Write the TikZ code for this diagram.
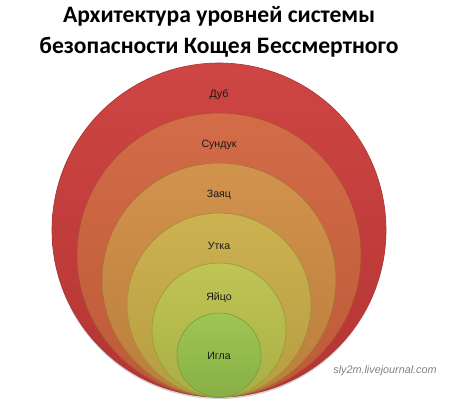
\documentclass[tikz,border=0pt]{standalone}
\usepackage{fontspec}
\setmainfont{Liberation Sans}
\newfontfamily\titlefont{Carlito}
\usepackage{xcolor}
\usetikzlibrary{shadows}

\definecolor{DubRed}{HTML}{CC3C3A}
\definecolor{SundukOrange}{HTML}{D1643E}
\definecolor{ZayatsOchre}{HTML}{CF8D43}
\definecolor{UtkaMustard}{HTML}{CAAE48}
\definecolor{YaitsoLime}{HTML}{BCC24B}
\definecolor{IglaGreen}{HTML}{97C34C}

\tikzset{
    ring/.style={circle, inner sep=0pt, minimum size=#1, line width=0.6pt},
    layer/.style={font=\fontsize{10.6}{12}\selectfont, text=black!90}
}

\begin{document}
\begin{tikzpicture}[x=1pt, y=-1pt]
        \useasboundingbox (0, 0) rectangle (449, 407);

        \node (title) at (219, 32)[align=center, font=\titlefont\bfseries\fontsize{23.6}{30.5}\selectfont] {Архитектура уровней системы \\ безопасности Кощея Бессмертного};

        % nested layers, all touching at the bottom
        \node (dub) at (219, 230)[ring=334pt, draw=DubRed!85!black, top color=DubRed!95!white, bottom color=DubRed!88!black, drop shadow={shadow xshift=0pt, shadow yshift=-2pt, opacity=0.35}] {};
        \node (sunduk) at (219, 255)[ring=284pt, draw=SundukOrange!80!black, top color=SundukOrange!95!white, bottom color=SundukOrange!90!black] {};
        \node (zayats) at (219, 280)[ring=234pt, draw=ZayatsOchre!80!black, top color=ZayatsOchre!95!white, bottom color=ZayatsOchre!90!black] {};
        \node (utka) at (219, 305)[ring=184pt, draw=UtkaMustard!80!black, top color=UtkaMustard!95!white, bottom color=UtkaMustard!90!black] {};
        \node (yaitso) at (219, 330)[ring=134pt, draw=YaitsoLime!80!black, top color=YaitsoLime!95!white, bottom color=YaitsoLime!90!black] {};
        \node (igla) at (219, 355)[ring=84pt, draw=IglaGreen!80!black, top color=IglaGreen!95!white, bottom color=IglaGreen!90!black] {};

        \node (dubtext) at (219, 95)[layer] {Дуб};
        \node (sunduktext) at (219, 145)[layer] {Сундук};
        \node (zayatstext) at (219, 195)[layer] {Заяц};
        \node (utkatext) at (219, 246)[layer] {Утка};
        \node (yaitsotext) at (219, 298)[layer] {Яйцо};
        \node (iglatext) at (219, 356)[layer] {Игла};

        \node (site) at (385, 371)[font=\itshape\fontsize{10.8}{12}\selectfont, text=black!50] {sly2m.livejournal.com};
    \end{tikzpicture}
\end{document}
